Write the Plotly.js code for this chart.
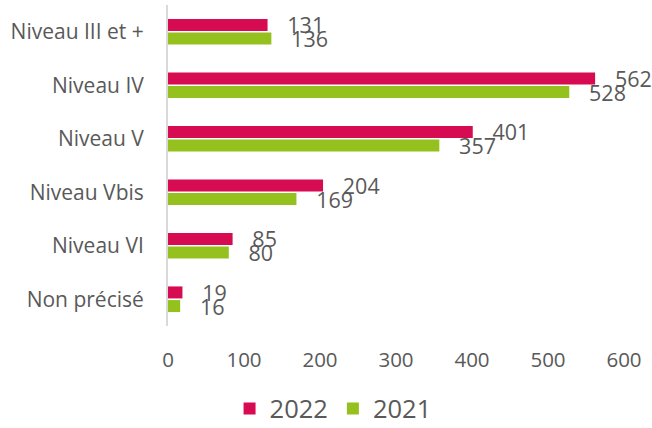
<!DOCTYPE html>
<html><head><meta charset="utf-8">
<script src="https://cdn.plot.ly/plotly-3.0.1.min.js"></script>
<style>html,body{margin:0;padding:0;background:#fff}</style>
</head><body>
<div id="chart" style="width:652px;height:428px"></div>
<script>
const categories = ["Niveau III et +", "Niveau IV", "Niveau V", "Niveau Vbis", "Niveau VI", "Non précisé"];
const values2022 = [131, 562, 401, 204, 85, 19];
const values2021 = [136, 528, 357, 169, 80, 16];
const seriesNames = ["2022", "2021"];
const tickValues = [0, 100, 200, 300, 400, 500, 600];

const pad = '\u00a0\u00a0\u00a0';
function barTrace(name, vals, color) {
  return {
    type: 'bar', orientation: 'h', name: name,
    x: vals, y: categories,
    marker: {color: color},
    text: vals.map(v => pad + v),
    textposition: 'outside', constraintext: 'none', cliponaxis: false,
    textfont: {family: 'Open Sans', size: 21.5, color: '#595959'},
    hoverinfo: 'none'
  };
}
const data = [
  barTrace(seriesNames[0], values2022, '#D60B52'),
  barTrace(seriesNames[1], values2021, '#95C11F')
];
const layout = {
  width: 652, height: 428,
  margin: {l: 168, r: 28, t: 5, b: 102, autoexpand: false},
  paper_bgcolor: '#fff', plot_bgcolor: '#fff',
  font: {family: 'Open Sans', color: '#595959', size: 20},
  barmode: 'group', bargap: 0.49, bargroupgap: 0.12,
  xaxis: {range: [0, 600], tickvals: tickValues, showgrid: false, zeroline: false,
          showline: false, ticks: '', ticklabelstandoff: 19, automargin: false,
          tickfont: {family: 'Open Sans', size: 20.5, color: '#595959'}},
  yaxis: {autorange: 'reversed', showgrid: false, zeroline: false, showline: true,
          linecolor: '#d9d9d9', linewidth: 2, ticks: '', ticklabelstandoff: 18, automargin: false,
          tickfont: {family: 'Open Sans', size: 21, color: '#595959'}},
  showlegend: true,
  legend: {orientation: 'h', x: 0.135, xanchor: 'left', y: -0.258, yanchor: 'middle',
           font: {family: 'Open Sans', size: 25.5, color: '#595959'}, traceorder: 'normal'}
};
Plotly.newPlot('chart', data, layout, {displayModeBar: false, staticPlot: true});
</script>
</body></html>
